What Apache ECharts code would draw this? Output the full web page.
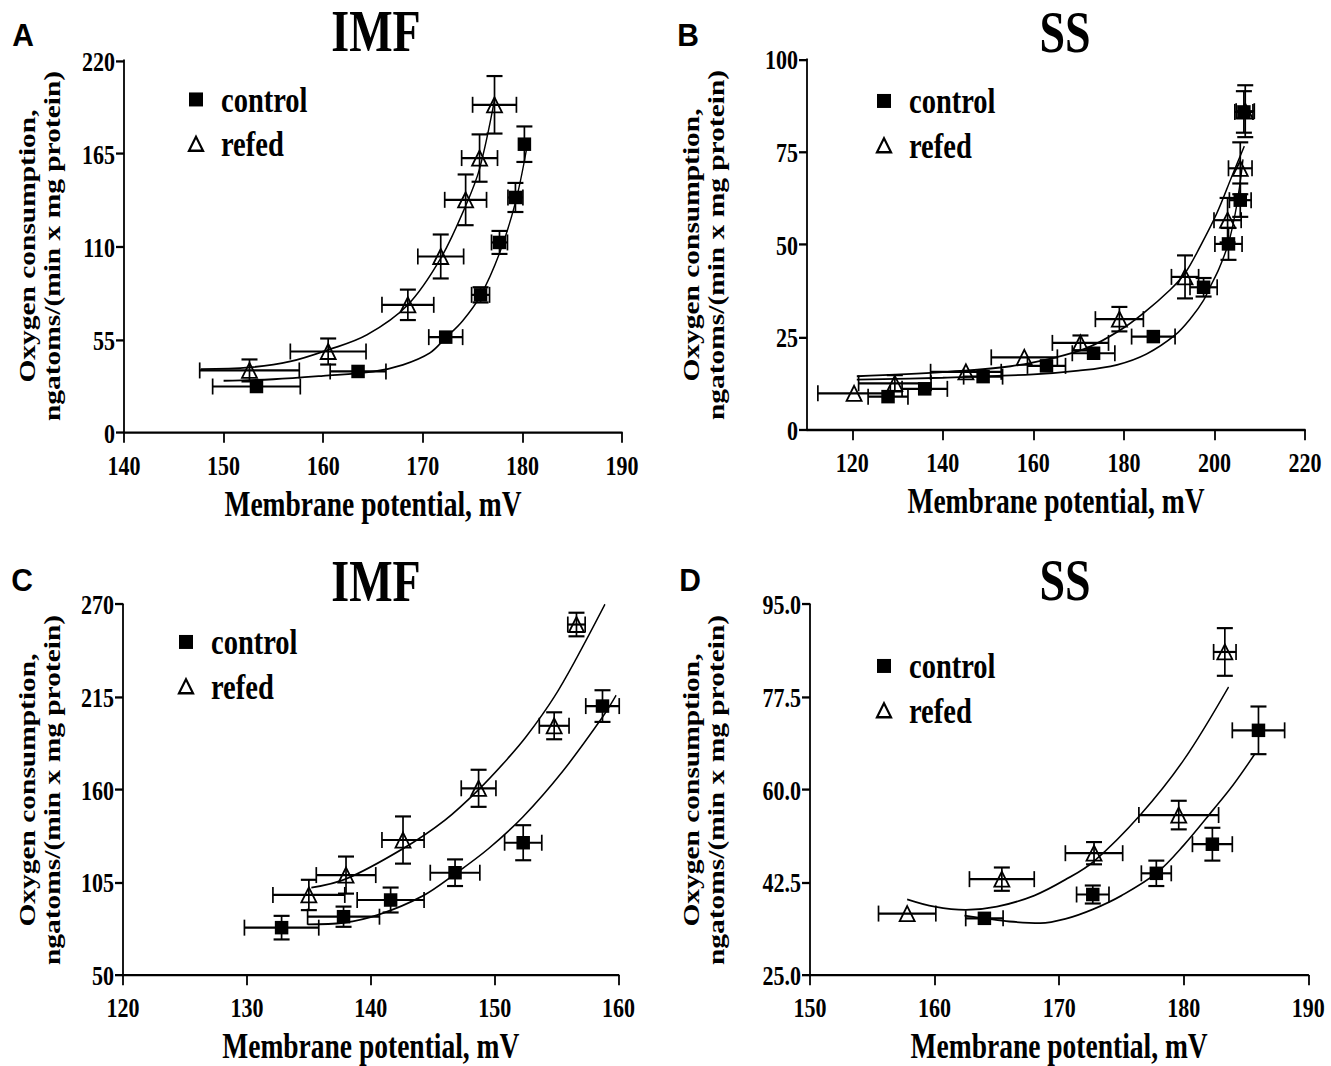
<!DOCTYPE html>
<html>
<head>
<meta charset="utf-8">
<script src="https://cdn.jsdelivr.net/npm/echarts@6/dist/echarts.min.js"></script>
<style>
  html, body { margin: 0; padding: 0; background: #fff; width: 1331px; height: 1066px; }
  #chart { width: 1331px; height: 833px; transform: scaleY(1.27971); transform-origin: 0 0; }
</style>
</head>
<body>
<div id="chart"></div>
<script>
// ---- panel A (IMF) ----
const ctrlA_x  = [153.3, 163.5, 172.3, 175.8, 177.7, 179.3, 180.2];
const ctrlA_y  = [27.2, 36.1, 56.4, 81.4, 112.4, 139.0, 170.5];
const ctrlA_xe = [4.4, 2.8, 1.7, 0.9, 0.8, 0.75, 0.6];
const ctrlA_ye = [2, 2, 2, 4.5, 6.8, 8.6, 10.5];
const refA_x   = [152.6, 160.5, 168.5, 171.8, 174.3, 175.7, 177.2];
const refA_y   = [36.7, 47.9, 75.5, 104.1, 137.6, 162.3, 193.8];
const refA_xe  = [5.0, 3.8, 2.6, 2.3, 2.1, 1.8, 2.2];
const refA_ye  = [6.5, 7.7, 9.0, 13.0, 15.0, 14.0, 17.0];
const ctrlFitA_x = [150, 155, 160, 165, 168, 170.7, 172.3, 174, 175.8, 177.7, 179.3, 180.4];
const ctrlFitA_y = [30.6, 31.5, 33.5, 36, 40, 47, 56, 66, 81, 106, 136, 167];
const refFitA_x  = [147.7, 152.6, 156.7, 160.5, 164.4, 168.5, 171.8, 174.3, 175.7, 177.2];
const refFitA_y  = [37.5, 38.5, 42, 48.9, 57.8, 75.5, 103, 134, 156, 196.8];

// ---- panel B (SS) ----
const ctrlB_x  = [127.9, 136.0, 148.9, 162.9, 173.3, 186.5, 197.6, 203.1, 205.7, 206.5];
const ctrlB_y  = [9.0, 11.1, 14.4, 17.3, 20.7, 25.2, 38.5, 50.2, 62.0, 85.8];
const ctrlB_xe = [4.4, 5.0, 4.3, 4.2, 4.7, 4.8, 3.0, 3.0, 2.4, 2.0];
const ctrlB_ye = [1, 1, 1, 1, 1.5, 1, 2.5, 4.3, 4.5, 5.6];
const refB_x   = [120.4, 129.4, 145.1, 158.0, 170.4, 179.0, 193.5, 202.9, 205.7, 206.8];
const refB_y   = [9.9, 12.6, 15.7, 19.6, 23.5, 29.9, 41.3, 56.6, 70.6, 86.0];
const refB_xe  = [8.0, 8.0, 7.8, 7.3, 6.2, 5.3, 3.0, 3.0, 2.6, 2.0];
const refB_ye  = [1, 2.2, 1, 1, 2.0, 3.3, 5.8, 6.0, 7.0, 7.0];
const ctrlFitB_x = [121, 140, 160, 170, 178.5, 185, 191.3, 195, 197.6, 199, 201, 203.1, 204.6, 205.7, 206.3];
const ctrlFitB_y = [13.6, 14.1, 15.0, 16.0, 17.6, 20.5, 25.6, 30.5, 35, 38.5, 43.5, 50.4, 58.5, 67, 73];
const refFitB_x  = [121, 140, 155, 165, 172, 179, 184.3, 190.2, 193.5, 196.8, 200.5, 203.8, 206.6];
const refFitB_y  = [14.5, 15.6, 17.2, 19.6, 22.2, 26.8, 31.5, 37.8, 42.3, 49.4, 58.4, 68.3, 76.6];

// ---- panel C (IMF) ----
const ctrlC_x  = [132.8, 137.8, 141.6, 146.8, 152.3, 158.7];
const ctrlC_y  = [78.1, 84.6, 94.5, 110.7, 128.5, 209.6];
const ctrlC_xe = [3.0, 2.9, 2.7, 2.0, 1.5, 1.35];
const ctrlC_ye = [7, 6, 7.4, 7.9, 10.4, 9.4];
const refC_x   = [135.0, 138.0, 142.6, 148.7, 154.8, 156.6];
const refC_y   = [97.5, 109.3, 130.1, 160.8, 197.9, 258.0];
const refC_xe  = [2.9, 2.4, 1.7, 1.4, 1.2, 0.7];
const refC_ye  = [9, 11, 14, 11, 8, 7];
const ctrlFitC_x = [134.9, 137.8, 140.7, 144.2, 146.8, 149.5, 152.3, 155.5, 158.7, 159.8];
const ctrlFitC_y = [80, 81, 86, 97, 110, 125, 144, 171, 203, 216];
const refFitC_x  = [135.2, 138, 142.6, 146, 148.7, 151, 152.6, 154.8, 156.6, 158.9];
const refFitC_y  = [101.8, 107, 125, 142, 160, 178, 192, 215, 238, 270];

// ---- panel D (SS) ----
const ctrlD_x  = [164.0, 172.7, 177.8, 182.3, 186.0];
const ctrlD_y  = [35.7, 40.2, 44.2, 49.7, 71.2];
const ctrlD_xe = [1.5, 1.3, 1.2, 1.6, 2.1];
const ctrlD_ye = [0.8, 1.7, 2.4, 3.1, 4.5];
const refD_x   = [157.8, 165.4, 172.8, 179.6, 183.3];
const refD_y   = [36.6, 43.1, 48.0, 55.2, 86.0];
const refD_xe  = [2.3, 2.6, 2.3, 3.2, 0.9];
const refD_ye  = [0.8, 2.2, 2.1, 2.7, 4.5];
const ctrlFitD_x = [162.4, 164, 166, 168.5, 170.5, 172.7, 175, 177.8, 180, 182.4, 184, 185.7];
const ctrlFitD_y = [36.2, 35.7, 35.1, 34.8, 35.6, 37.4, 40.0, 44.2, 49.5, 56.3, 61, 66.7];
const refFitD_x  = [157.8, 160, 162.5, 165, 168, 170.5, 172.8, 176.5, 180, 183.6];
const refFitD_y  = [39.3, 37.9, 37.3, 37.9, 40.0, 43.0, 46.5, 55.2, 65.6, 79.4];

// tick labels
const ticksB_x = [120, 140, 160, 180, 200, 220];
const ticksC_y = [50, 105, 160, 215, 270];
const ticksD_y = [25, 42.5, 60, 77.5, 95];

// the figure's text is stretched vertically, so the whole page is drawn at 1/S height and scaled up
const S = 1066 / 833;
function cy(v) { return v / S; }
const FONT = 'Liberation Serif';

function pairs(xs, ys) { return xs.map((x, i) => [x, ys[i]]); }
function errData(xs, ys, xe, ye) { return xs.map((x, i) => [x, ys[i], xe[i], ye[i]]); }

const panels = [
  { grid: { left: 124, top: cy(60.5), width: 498, height: cy(372) },
    x: { min: 140, max: 190, interval: 10 }, y: { min: 0, max: 220, interval: 55 },
    ctrl: errData(ctrlA_x, ctrlA_y, ctrlA_xe, ctrlA_ye), ref: errData(refA_x, refA_y, refA_xe, refA_ye),
    ctrlFit: pairs(ctrlFitA_x, ctrlFitA_y), refFit: pairs(refFitA_x, refFitA_y),
    legend: [183, 90.5], title: ['IMF', 376, 31], letter: ['A', 23, 35], yname: [40, 246] },
  { grid: { left: 807, top: cy(59.3), width: 498, height: cy(370.7) },
    x: { min: 110, max: 220, custom: ticksB_x }, y: { min: 0, max: 100, interval: 25 },
    ctrl: errData(ctrlB_x, ctrlB_y, ctrlB_xe, ctrlB_ye), ref: errData(refB_x, refB_y, refB_xe, refB_ye),
    ctrlFit: pairs(ctrlFitB_x, ctrlFitB_y), refFit: pairs(refFitB_x, refFitB_y),
    legend: [871, 92], title: ['SS', 1065, 32], letter: ['B', 688, 35], yname: [704, 245] },
  { grid: { left: 123, top: cy(604.3), width: 495.6, height: cy(370.7) },
    x: { min: 120, max: 160, interval: 10 }, y: { min: 50, max: 270, custom: ticksC_y },
    ctrl: errData(ctrlC_x, ctrlC_y, ctrlC_xe, ctrlC_ye), ref: errData(refC_x, refC_y, refC_xe, refC_ye),
    ctrlFit: pairs(ctrlFitC_x, ctrlFitC_y), refFit: pairs(refFitC_x, refFitC_y),
    legend: [173, 633], title: ['IMF', 376, 581], letter: ['C', 22, 580], yname: [40, 790] },
  { grid: { left: 810, top: cy(604.3), width: 498.3, height: cy(370.7) },
    x: { min: 150, max: 190, interval: 10 }, y: { min: 25, max: 95, custom: ticksD_y, fixed: 1 },
    ctrl: errData(ctrlD_x, ctrlD_y, ctrlD_xe, ctrlD_ye), ref: errData(refD_x, refD_y, refD_xe, refD_ye),
    ctrlFit: pairs(ctrlFitD_x, ctrlFitD_y), refFit: pairs(refFitD_x, refFitD_y),
    legend: [871, 657], title: ['SS', 1065, 580], letter: ['D', 690, 580], yname: [704, 790] }
];

function errRender(params, api) {
  const x = api.value(0), y = api.value(1), xe = api.value(2), ye = api.value(3);
  const c = api.coord([x, y]);
  const xl = api.coord([x - xe, y])[0], xr = api.coord([x + xe, y])[0];
  const yt = api.coord([x, y + ye])[1], yb = api.coord([x, y - ye])[1];
  const cw = 8, ch = 8 / S;
  const segs = [];
  if ((xr - xl) / 2 > 7) {
    segs.push([xl, c[1], xr, c[1]], [xl, c[1] - ch, xl, c[1] + ch], [xr, c[1] - ch, xr, c[1] + ch]);
  }
  if ((yb - yt) / 2 > 7 / S) {
    segs.push([c[0], yt, c[0], yb], [c[0] - cw, yt, c[0] + cw, yt], [c[0] - cw, yb, c[0] + cw, yb]);
  }
  return {
    type: 'group',
    children: segs.map(s => ({
      type: 'line', shape: { x1: s[0], y1: s[1], x2: s[2], y2: s[3] },
      style: { stroke: '#000', lineWidth: 1.7 }
    }))
  };
}

function axisBase(i, a, isX) {
  const labelStyle = { color: '#000', fontFamily: FONT, fontWeight: 'bold', fontSize: 22 };
  const ax = {
    type: 'value', gridIndex: i, min: a.min, max: a.max,
    axisLine: { show: true, onZero: false, lineStyle: { color: '#000', width: 1.8 } },
    axisTick: { show: true, length: 8, lineStyle: { color: '#000', width: 1.8 } },
    axisLabel: Object.assign({ margin: isX ? 14 : 9 }, labelStyle),
    splitLine: { show: false }
  };
  if (a.custom) {
    ax.axisTick.customValues = a.custom;
    ax.axisLabel.customValues = a.custom;
  } else {
    ax.interval = a.interval;
  }
  if (a.fixed) ax.axisLabel.formatter = v => Number(v).toFixed(1);
  if (isX) {
    ax.name = 'Membrane potential, mV';
    ax.nameLocation = 'middle';
    ax.nameGap = 42;
    ax.nameTextStyle = { color: '#000', fontFamily: FONT, fontWeight: 'bold', fontSize: 27.5 };
  }
  return ax;
}

const grids = [], xAxes = [], yAxes = [], series = [], legends = [], graphics = [];
panels.forEach((p, i) => {
  grids.push(p.grid);
  xAxes.push(axisBase(i, p.x, true));
  yAxes.push(axisBase(i, p.y, false));
  [p.ctrl, p.ref].forEach(d => series.push({
    type: 'custom', xAxisIndex: i, yAxisIndex: i, renderItem: errRender,
    data: d, encode: { x: 0, y: 1 }, silent: true, z: 2, clip: false
  }));
  [p.ctrlFit, p.refFit].forEach((d, k) => series.push({
    type: 'line', name: k ? 'refed fit' : 'control fit', xAxisIndex: i, yAxisIndex: i,
    data: d, smooth: 0.35, showSymbol: false, silent: true, z: 3,
    lineStyle: { color: '#000', width: 1.4 }
  }));
  series.push({
    type: 'scatter', name: 'control', xAxisIndex: i, yAxisIndex: i,
    data: p.ctrl.map(r => [r[0], r[1]]), symbol: 'rect', symbolSize: [13.5, 13.5 / S],
    itemStyle: { color: '#000', opacity: 1 }, z: 4, silent: true
  });
  series.push({
    type: 'scatter', name: 'refed', xAxisIndex: i, yAxisIndex: i,
    data: p.ref.map(r => [r[0], r[1]]), symbol: 'triangle', symbolSize: [15, 15 / S],
    itemStyle: { color: 'rgba(255,255,255,0)', borderColor: '#000', borderWidth: 1.6, opacity: 1 }, z: 4, silent: true
  });
  legends.push({
    orient: 'vertical', left: p.legend[0], top: cy(p.legend[1]) - 12.5,
    data: ['control', 'refed'], selectedMode: false,
    itemWidth: 14, itemHeight: 14 / S, itemGap: 5.6, symbolKeepAspect: false,
    textStyle: { color: '#000', fontFamily: FONT, fontWeight: 'bold', fontSize: 28.5, lineHeight: 25, padding: [0, 0, 0, 13] }
  });
  graphics.push({
    type: 'text', x: p.title[1], y: cy(p.title[2]), silent: true,
    style: { text: p.title[0], fill: '#000', font: 'bold 46px "Liberation Serif"', align: 'center', verticalAlign: 'middle' }
  });
  graphics.push({
    type: 'text', x: p.letter[1], y: cy(p.letter[2]), scaleY: 0.8, silent: true,
    style: { text: p.letter[0], fill: '#000', font: 'bold 30px "Liberation Sans"', align: 'center', verticalAlign: 'middle' }
  });
  graphics.push({
    type: 'text', x: p.yname[0], y: cy(p.yname[1]), rotation: Math.PI / 2, silent: true,
    style: {
      text: 'Oxygen consumption,\nngatoms/(min x mg protein)', fill: '#000',
      font: 'bold 23px "Liberation Serif"', lineHeight: 25, align: 'center', verticalAlign: 'middle'
    }
  });
});

const chart = echarts.init(document.getElementById('chart'), null, { renderer: 'svg' });
chart.setOption({
  animation: false,
  backgroundColor: '#fff',
  grid: grids,
  xAxis: xAxes,
  yAxis: yAxes,
  legend: legends,
  graphic: graphics,
  series: series
});
</script>
</body>
</html>
